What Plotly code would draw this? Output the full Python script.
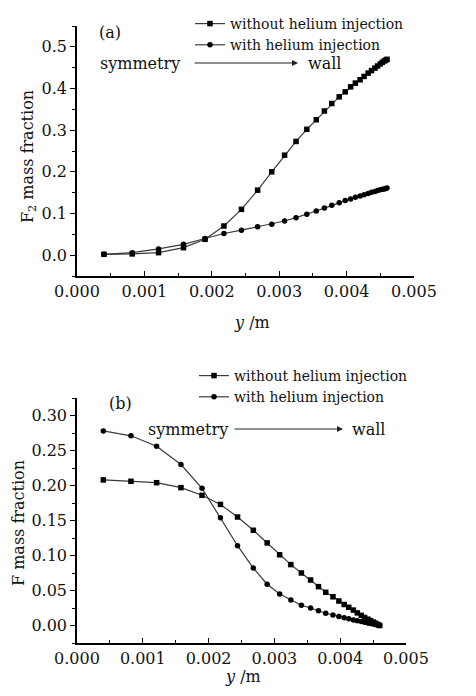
import plotly.graph_objects as go

# shared y-coordinate grid (m)
y_pos = [0.00040, 0.00082, 0.00121, 0.00158, 0.00190, 0.00218, 0.00244, 0.00268, 0.00289, 0.00308,
         0.00325, 0.00341, 0.00355, 0.00367, 0.00378, 0.00389, 0.00398, 0.00406, 0.00413, 0.00420,
         0.00426, 0.00432, 0.00437, 0.00442, 0.00446, 0.00450, 0.00453, 0.00456, 0.00458, 0.00460]

# (a) F2 mass fraction
f2_without = [0.002, 0.003, 0.006, 0.018, 0.038, 0.070, 0.110, 0.156, 0.200, 0.240,
              0.273, 0.302, 0.325, 0.346, 0.364, 0.380, 0.392, 0.404, 0.413, 0.421,
              0.429, 0.437, 0.443, 0.449, 0.454, 0.459, 0.463, 0.466, 0.468, 0.470]
f2_with = [0.002, 0.006, 0.015, 0.026, 0.040, 0.052, 0.060, 0.068, 0.074, 0.082,
           0.090, 0.098, 0.106, 0.113, 0.120, 0.126, 0.131, 0.135, 0.139, 0.142,
           0.145, 0.148, 0.151, 0.153, 0.155, 0.157, 0.158, 0.159, 0.160, 0.161]

# (b) F mass fraction
f_without = [0.208, 0.206, 0.204, 0.197, 0.186, 0.173, 0.155, 0.136, 0.118, 0.101,
             0.087, 0.075, 0.065, 0.0555, 0.0475, 0.041, 0.035, 0.030, 0.026, 0.022,
             0.018, 0.0145, 0.0115, 0.009, 0.007, 0.005, 0.0035, 0.002, 0.001, 0.000]
f_with = [0.278, 0.271, 0.256, 0.230, 0.196, 0.154, 0.114, 0.082, 0.059, 0.045,
          0.0365, 0.029, 0.025, 0.021, 0.0175, 0.015, 0.013, 0.011, 0.0095, 0.008,
          0.0068, 0.0056, 0.0046, 0.0037, 0.0029, 0.0021, 0.0015, 0.0009, 0.0005, 0.000]

labels = ["without helium injection", "with helium injection"]
x_ticks = [0.000, 0.001, 0.002, 0.003, 0.004, 0.005]

FONT = "DejaVu Serif"
OFF = 8                      # page body margin
W, H = 476 - 2 * OFF, 696 - 2 * OFF
LINE = "#3a3a3a"
TXT = "#111"

fig = go.Figure()

def add(x, y, name, symbol, xa, ya, legend):
    fig.add_trace(go.Scatter(
        x=x, y=y, mode="lines+markers", name=name, xaxis=xa, yaxis=ya, legend=legend,
        line=dict(color=LINE, width=1.2),
        marker=dict(symbol=symbol, size=5.5, color="black"),
    ))

add(y_pos, f2_without, labels[0], "square", "x", "y", "legend")
add(y_pos, f2_with, labels[1], "circle", "x", "y", "legend")
add(y_pos, f_without, labels[0], "square", "x2", "y2", "legend2")
add(y_pos, f_with, labels[1], "circle", "x2", "y2", "legend2")

def px(v):
    return (v - OFF) / W

def py(v):
    return 1 - (v - OFF) / H

common_x = dict(range=[0, 0.005], tickvals=x_ticks, tickformat=".3f", showline=True,
                linecolor="black", linewidth=1.5, ticks="inside", ticklen=5, tickwidth=1.2,
                tickcolor="black", minor=dict(dtick=0.0005, ticks="inside", ticklen=3, tickcolor="black"),
                showgrid=False, zeroline=False, mirror=False, automargin=False,
                tickfont=dict(family=FONT, size=16, color=TXT))
common_y = dict(showline=True, linecolor="black", linewidth=1.5, ticks="outside", ticklen=5,
                tickwidth=1.2, tickcolor="black", showgrid=False, zeroline=False, automargin=False,
                tickfont=dict(family=FONT, size=16, color=TXT))

fig.update_layout(
    width=W, height=H, margin=dict(l=0, r=0, t=0, b=0),
    paper_bgcolor="white", plot_bgcolor="white",
    font=dict(family=FONT, size=16, color=TXT),
    xaxis=dict(domain=[px(77), px(414)], anchor="y", **common_x),
    yaxis=dict(domain=[py(276), py(26)], anchor="x", range=[-0.05, 0.55], dtick=0.1, tickformat=".1f",
               minor=dict(dtick=0.05, ticks="outside", ticklen=3, tickcolor="black"), **common_y),
    xaxis2=dict(domain=[px(77), px(406)], anchor="y2", **common_x),
    yaxis2=dict(domain=[py(643), py(398)], anchor="x2", range=[-0.025, 0.325], dtick=0.05, tickformat=".2f",
                minor=dict(dtick=0.025, ticks="outside", ticklen=3, tickcolor="black"), **common_y),
    legend=dict(x=px(190), y=1, xanchor="left", yanchor="top", bgcolor="rgba(0,0,0,0)",
                font=dict(family=FONT, size=14, color=TXT), itemwidth=30, tracegroupgap=0),
    legend2=dict(x=px(194), y=py(360), xanchor="left", yanchor="top", bgcolor="rgba(0,0,0,0)",
                 font=dict(family=FONT, size=14, color=TXT), itemwidth=30, tracegroupgap=0),
    showlegend=True,
)

ann_font = dict(family=FONT, size=16, color=TXT)
annotations = [
    dict(text="(a)", x=px(110), y=py(33)),
    dict(text="(b)", x=px(120), y=py(403)),
    dict(text="symmetry", x=px(140), y=py(63)),
    dict(text="wall", x=px(324), y=py(63)),
    dict(text="symmetry", x=px(188), y=py(429)),
    dict(text="wall", x=px(368), y=py(429)),
    dict(text="<i>y</i> /m", x=px(252), y=py(322)),
    dict(text="<i>y</i> /m", x=px(243), y=py(676)),
    dict(text="F<sub>2</sub> mass fraction", x=px(28), y=py(157), textangle=-90),
    dict(text="F mass fraction", x=px(18), y=py(523), textangle=-90),
]
for a in annotations:
    fig.add_annotation(xref="paper", yref="paper", showarrow=False, font=ann_font,
                       xanchor="center", yanchor="middle", **a)

# arrows
for x0, x1, yy in [(193, 298, 63), (233, 343, 429)]:
    fig.add_annotation(xref="paper", yref="paper", x=px(x1), y=py(yy), ax=-(x1 - x0), ay=0,
                       axref="pixel", ayref="pixel", text="", showarrow=True,
                       arrowhead=2, arrowsize=1.2, arrowwidth=1, arrowcolor="#222")

fig.write_html("out.html")
